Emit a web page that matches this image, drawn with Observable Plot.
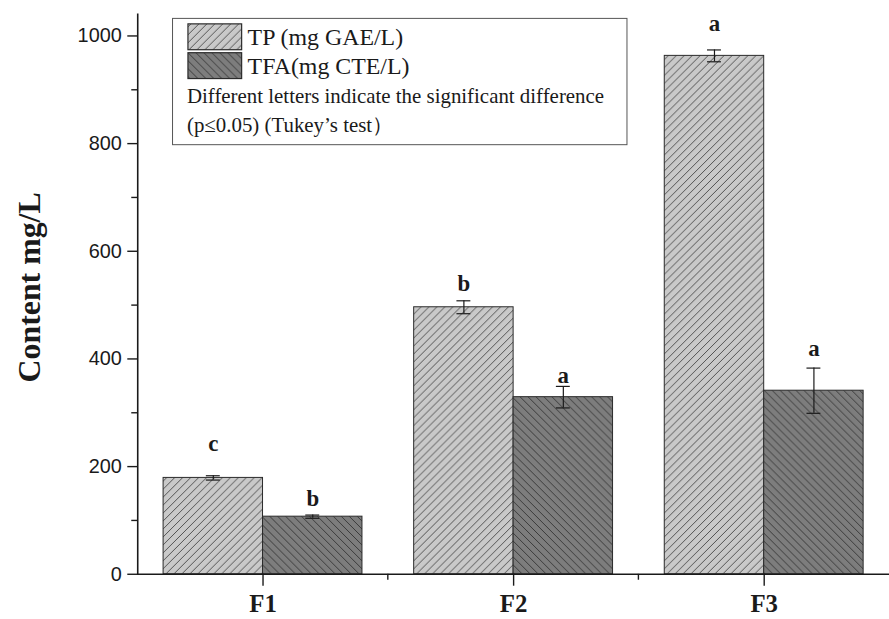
<!DOCTYPE html>
<html>
<head>
<meta charset="utf-8">
<script src="https://cdn.jsdelivr.net/npm/d3@7"></script>
<script src="https://cdn.jsdelivr.net/npm/@observablehq/plot@0.6"></script>
<style>
  html, body { margin: 0; padding: 0; overflow: hidden; background: #fff; }
  #chart { width: 889px; height: 619px; overflow: hidden; }
</style>
</head>
<body>
<div id="chart"></div>
<script>
// ---- data ----
const categories = ["F1", "F2", "F3"];
const seriesKeys = ["TP", "TFA"];
const seriesLabels = ["TP (mg GAE/L)", "TFA(mg CTE/L)"];
const tpValues = [179, 496, 963];
const tpErrors = [4, 12, 11];
const tfaValues = [107, 329, 341];
const tfaErrors = [3, 20, 42];
const tpLetters = ["c", "b", "a"];
const tfaLetters = ["b", "a", "a"];
const tpLetterY = [229, 527, 1010];
const tfaLetterY = [127, 355, 405];
const yTicks = [0, 200, 400, 600, 800, 1000];
const yMinorTicks = [100, 300, 500, 700, 900];
const yLabel = "Content mg/L";
const noteLines = ["Different letters indicate the significant difference", "(p\u22640.05) (Tukey\u2019s test\uFF09"];

const rows = categories.flatMap((c, i) => [
  {cat: c, series: "TP", value: tpValues[i], err: tpErrors[i], letter: tpLetters[i], ly: tpLetterY[i]},
  {cat: c, series: "TFA", value: tfaValues[i], err: tfaErrors[i], letter: tfaLetters[i], ly: tfaLetterY[i]}
]);

const serif = "'Liberation Serif', 'Times New Roman', serif";
const sans = "'Liberation Sans', Arial, sans-serif";
const ink = "#1a1a1a";

const plot = Plot.plot({
  width: 894,
  height: 619,
  marginLeft: 138,
  marginRight: 0,
  marginTop: 14,
  marginBottom: 42,
  style: {fontFamily: sans, background: "white", color: ink},
  fx: {domain: categories, padding: 0},
  x: {domain: seriesKeys, paddingInner: 0, paddingOuter: 0.25, axis: null},
  y: {domain: [0, 1040]},
  marks: [
    Plot.barY(rows.filter(d => d.series === "TP"), {fx: "cat", x: "series", y: "value", fill: "url(#hatchTP)", stroke: "#2a2a2a", strokeWidth: 1}),
    Plot.barY(rows.filter(d => d.series === "TFA"), {fx: "cat", x: "series", y: "value", fill: "url(#hatchTFA)", stroke: "#2a2a2a", strokeWidth: 1}),
    Plot.ruleX(rows, {fx: "cat", x: "series", y1: d => d.value - d.err, y2: d => d.value + d.err, stroke: ink, strokeWidth: 1.2}),
    Plot.tickY(rows, {fx: "cat", x: "series", y: d => d.value + d.err, insetLeft: 43, insetRight: 43, stroke: ink, strokeWidth: 1.2}),
    Plot.tickY(rows, {fx: "cat", x: "series", y: d => d.value - d.err, insetLeft: 43, insetRight: 43, stroke: ink, strokeWidth: 1.2}),
    Plot.text(rows, {fx: "cat", x: "series", y: "ly", text: "letter", fontFamily: serif, fontWeight: "bold", fontSize: 23, lineAnchor: "bottom", fill: ink}),
    Plot.ruleY([0], {stroke: ink, strokeWidth: 1.6}),
    Plot.frame({anchor: "left", facetAnchor: "left", stroke: ink, strokeWidth: 1.6}),
    Plot.axisY({ticks: yTicks, tickFormat: d => String(d), tickSize: 10, tickPadding: 6, fontSize: 20, label: null, strokeWidth: 1.4}),
    Plot.axisY({ticks: yMinorTicks, tickSize: 6, text: null, label: null, strokeWidth: 1.4}),
    Plot.axisFx({anchor: "bottom", tickSize: 12, tickPadding: 8, fontSize: 25, fontWeight: "bold", fontFamily: serif, label: null, strokeWidth: 1.4})
  ]
});

// ---- patterns, minor ticks, y label and legend ----
const svg = d3.select(plot.tagName.toLowerCase() === "svg" ? plot : plot.querySelector("svg"));
const defs = svg.insert("defs", ":first-child");
const p1 = defs.append("pattern").attr("id", "hatchTP").attr("patternUnits", "userSpaceOnUse").attr("width", 8).attr("height", 8);
p1.append("rect").attr("width", 8).attr("height", 8).attr("fill", "#c9c9c9");
p1.append("path").attr("d", "M0,8 L8,0 M-2,2 L2,-2 M6,10 L10,6").attr("stroke", "#333").attr("stroke-width", 0.8);
const p2 = defs.append("pattern").attr("id", "hatchTFA").attr("patternUnits", "userSpaceOnUse").attr("width", 8).attr("height", 8);
p2.append("rect").attr("width", 8).attr("height", 8).attr("fill", "#7d7d7d");
p2.append("path").attr("d", "M0,0 L8,8 M-2,6 L2,10 M6,-2 L10,2").attr("stroke", "#2a2a2a").attr("stroke-width", 0.8);

const fxScale = plot.scale("fx");
const yScale = plot.scale("y");
const y0 = yScale.apply(0);
categories.slice(1).forEach(c => {
  const bx = fxScale.apply(c);
  svg.append("line").attr("x1", bx).attr("x2", bx).attr("y1", y0).attr("y2", y0 + 6)
    .attr("stroke", ink).attr("stroke-width", 1.4);
});

svg.append("text").attr("transform", `translate(30,289) rotate(-90)`)
  .attr("text-anchor", "middle").attr("dominant-baseline", "central")
  .attr("font-family", serif).attr("font-weight", "bold").attr("font-size", 32).attr("fill", ink)
  .text(yLabel);

const lg = svg.append("g").attr("text-anchor", "start");
lg.append("rect").attr("x", 173.5).attr("y", 18.5).attr("width", 457).attr("height", 127)
  .attr("fill", "white").attr("stroke", "#555").attr("stroke-width", 1);
const swatches = ["url(#hatchTP)", "url(#hatchTFA)"];
seriesLabels.forEach((lab, i) => {
  const top = 24 + i * 29;
  lg.append("rect").attr("x", 189).attr("y", top).attr("width", 54).attr("height", 26)
    .attr("fill", swatches[i]).attr("stroke", "#2a2a2a").attr("stroke-width", 1.2);
  lg.append("text").attr("x", 249).attr("y", top + 21).attr("font-family", serif)
    .attr("text-anchor", "start").attr("font-size", 24).attr("fill", ink).text(lab);
});
noteLines.forEach((t, i) => {
  lg.append("text").attr("x", 188).attr("y", 104 + i * 29).attr("font-family", serif)
    .attr("text-anchor", "start").attr("font-size", 21).attr("fill", ink).text(t);
});

document.getElementById("chart").appendChild(plot);
</script>
</body>
</html>
